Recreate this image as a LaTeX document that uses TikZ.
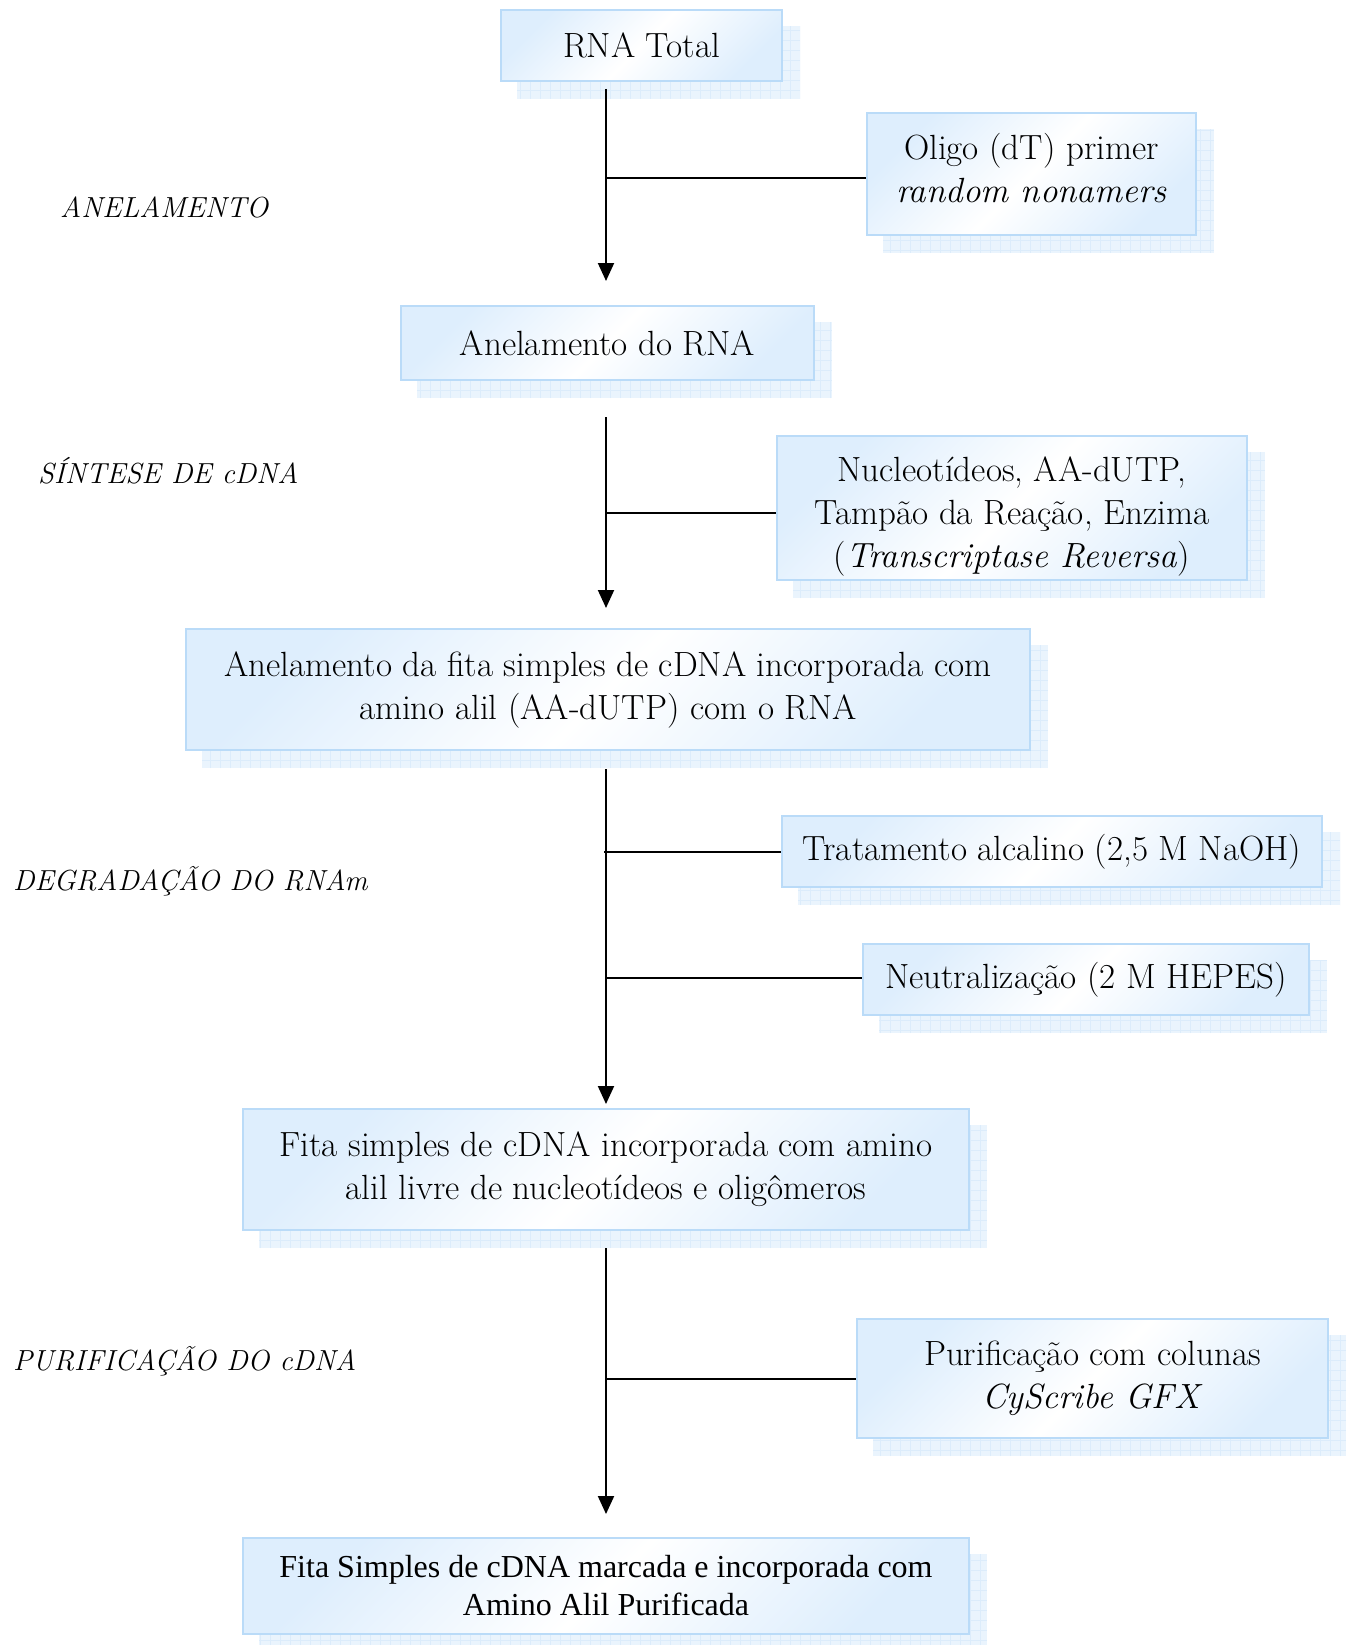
\documentclass[tikz,border=0pt]{standalone}
\usepackage{fontspec}
\newfontfamily\timesfont{Liberation Serif}
\usetikzlibrary{arrows.meta,backgrounds}
\definecolor{boxline}{RGB}{186,219,248}
\definecolor{boxtint}{RGB}{222,238,253}
\definecolor{shadefill}{RGB}{234,244,253}
\definecolor{shadegrid}{RGB}{220,236,251}
\tikzset{
  stage/.style={draw=boxline, line width=2pt, top color=boxtint, bottom color=boxtint,
    middle color=white, shading angle=45, align=center, inner sep=0pt,
    font=\fontsize{35}{43}\selectfont},
  phase/.style={anchor=west, inner sep=0pt, font=\fontsize{29}{36}\selectfont\itshape},
  trunk/.style={line width=2pt},
  flow/.style={trunk, -{Triangle[width=16pt,length=18pt]}},
}
% light grid shadow offset below-right of a box
\newcommand\boxshade[1]{%
  \begin{scope}
    \clip ([shift={(17,17)}]#1.south west) rectangle ([shift={(17,17)}]#1.north east);
    \fill[shadefill] ([shift={(17,17)}]#1.south west) rectangle ([shift={(17,17)}]#1.north east);
    \draw[shadegrid, line width=0.7pt, step=10pt] ([shift={(17,17)}]#1.south west) grid ([shift={(17,17)}]#1.north east);
  \end{scope}}
\begin{document}
\begin{tikzpicture}[x=1pt, y=-1pt]
  \useasboundingbox (0,0) rectangle (1352,1645);

  % boxes
  \node[stage, minimum width=281pt, minimum height=71pt] (rna) at (641.5,45.5) {RNA Total};
  \node[stage, minimum width=329pt, minimum height=122pt] (oligo) at (1031.5,174) {Oligo (dT) primer\\ \textit{random nonamers}\rule[-12pt]{0pt}{12pt}};
  \node[stage, minimum width=413pt, minimum height=74pt] (anel) at (607.5,343) {Anelamento do RNA};
  \node[stage, minimum width=470pt, minimum height=144pt] (nucl) at (1012,508) {\rule{0pt}{41pt}Nucleotídeos, AA-dUTP,\\ Tampão da Reação, Enzima\\ (\textit{Transcriptase Reversa})};
  \node[stage, minimum width=844pt, minimum height=121pt] (fita1) at (608,689.5) {Anelamento da fita simples de cDNA incorporada com\\ amino alil (AA-dUTP) com o RNA};
  \node[stage, minimum width=540pt, minimum height=71pt] (trat) at (1052,851.5) {Tratamento alcalino (2,5 M NaOH)};
  \node[stage, minimum width=446pt, minimum height=71pt] (neut) at (1086,979.5) {Neutralização (2 M HEPES)};
  \node[stage, minimum width=726pt, minimum height=121pt] (fita2) at (606,1169.5) {Fita simples de cDNA incorporada com amino\\ alil livre de nucleotídeos e oligômeros};
  \node[stage, minimum width=471pt, minimum height=119pt] (puri) at (1092.5,1378.5) {Purificação com colunas\\ \textit{CyScribe GFX}};
  \node[stage, minimum width=726pt, minimum height=96pt, font=\timesfont\fontsize{32}{38}\selectfont] (final) at (606,1586) {Fita Simples de cDNA marcada e incorporada com\\ Amino Alil Purificada};

  \begin{scope}[on background layer]
    \fill[white] (0,0) rectangle (1352,1645);
    \foreach \b in {rna,oligo,anel,nucl,fita1,trat,neut,fita2,puri,final} {\boxshade{\b}}
  \end{scope}

  % phase labels
  \node[phase] (l1) at (60,207) {ANELAMENTO};
  \node[phase] (l2) at (38,471) {SÍNTESE DE cDNA};
  \node[phase] (l3) at (13,881) {DEGRADAÇÃO DO RNAm};
  \node[phase] (l4) at (13,1361) {PURIFICAÇÃO DO cDNA};

  % main flow
  \coordinate (s1) at (606,89);   \coordinate (e1) at (606,281);
  \coordinate (s2) at (606,417);  \coordinate (e2) at (606,608);
  \coordinate (s3) at (606,769);  \coordinate (e3) at (606,1104);
  \coordinate (s4) at (606,1248); \coordinate (e4) at (606,1514);
  \draw[flow] (s1) -- (e1);
  \draw[flow] (s2) -- (e2);
  \draw[flow] (s3) -- (e3);
  \draw[flow] (s4) -- (e4);

  % reagents joining the flow
  \coordinate (j1) at (606,178);  \draw[trunk] (j1) -- (j1 -| oligo.west);
  \coordinate (j2) at (606,513);  \draw[trunk] (j2) -- (j2 -| nucl.west);
  \coordinate (j3) at (604,852);  \draw[trunk] (j3) -- (j3 -| trat.west);
  \coordinate (j4) at (606,978);  \draw[trunk] (j4) -- (j4 -| neut.west);
  \coordinate (j5) at (606,1379); \draw[trunk] (j5) -- (j5 -| puri.west);
\end{tikzpicture}
\end{document}
